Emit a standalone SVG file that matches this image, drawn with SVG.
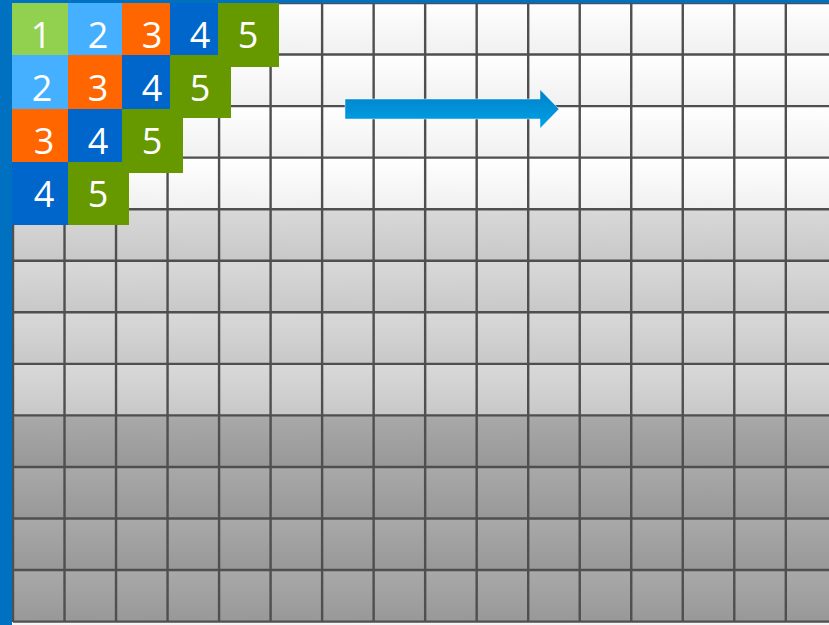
<svg xmlns="http://www.w3.org/2000/svg" width="829" height="625" viewBox="0 0 829 625">
  <style>
    .num { font-family: "Open Sans", "Noto Sans", "Liberation Sans", sans-serif; font-size: 36px; fill: #ffffff; text-anchor: middle; }
    .grid { stroke: #4f4f4f; stroke-width: 2.4; fill: none; }
    .c1 { fill: #92d050; }
    .c2 { fill: #45b0ff; }
    .c3 { fill: #ff6600; }
    .c4 { fill: #0066cc; }
    .c5 { fill: #669900; }
  </style>
  <defs>
    <linearGradient id="gW" x1="0" y1="0" x2="0" y2="1">
      <stop offset="0" stop-color="#ffffff"/>
      <stop offset="1" stop-color="#f0f0f0"/>
    </linearGradient>
    <linearGradient id="gL" x1="0" y1="0" x2="0" y2="1">
      <stop offset="0" stop-color="#d9d9d9"/>
      <stop offset="1" stop-color="#c8c8c8"/>
    </linearGradient>
    <linearGradient id="gD" x1="0" y1="0" x2="0" y2="1">
      <stop offset="0" stop-color="#a9a9a9"/>
      <stop offset="1" stop-color="#989898"/>
    </linearGradient>
    <linearGradient id="gA" x1="0" y1="0" x2="0" y2="1">
      <stop offset="0" stop-color="#0080c8"/>
      <stop offset="1" stop-color="#00a2e8"/>
    </linearGradient>
    <pattern id="pW" patternUnits="userSpaceOnUse" x="13" y="3" width="51.52" height="51.55">
      <rect x="0" y="0" width="51.52" height="51.55" fill="url(#gW)"/>
    </pattern>
    <pattern id="pL" patternUnits="userSpaceOnUse" x="13" y="3" width="51.52" height="51.55">
      <rect x="0" y="0" width="51.52" height="51.55" fill="url(#gL)"/>
    </pattern>
    <pattern id="pD" patternUnits="userSpaceOnUse" x="13" y="3" width="51.52" height="51.55">
      <rect x="0" y="0" width="51.52" height="51.55" fill="url(#gD)"/>
    </pattern>
  </defs>

  <rect x="0" y="0" width="829" height="625" fill="#f4f4f4"/>

  <g id="board">
    <rect x="13" y="3" width="816" height="206.2" fill="url(#pW)"/>
    <rect x="13" y="209.2" width="816" height="206.2" fill="url(#pL)"/>
    <rect x="13" y="415.4" width="816" height="206.2" fill="url(#pD)"/>
    <path class="grid" d="M13 3V622M64.52 3V622M116.04 3V622M167.56 3V622M219.08 3V622M270.6 3V622M322.12 3V622M373.64 3V622M425.16 3V622M476.68 3V622M528.2 3V622M579.72 3V622M631.24 3V622M682.76 3V622M734.28 3V622M785.8 3V622
      M13 3H829M13 54.55H829M13 106.1H829M13 157.65H829M13 209.2H829M13 260.75H829M13 312.3H829M13 363.85H829M13 415.4H829M13 466.95H829M13 518.5H829M13 570.05H829M13 621.6H829"/>
  </g>

  <rect x="0" y="0" width="12" height="625" fill="#0070c0"/>
  <rect x="0" y="0" width="829" height="3" fill="#0070c0"/>

  <g id="tiles">
    <g id="t-r0-1"><rect class="c1" x="12" y="3" width="56" height="52"/><text class="num" x="41" y="48">1</text></g>
    <g id="t-r0-2"><rect class="c2" x="68" y="3" width="54" height="52"/><text class="num" x="98" y="48">2</text></g>
    <g id="t-r0-3"><rect class="c3" x="122" y="3" width="48" height="52"/><text class="num" x="152" y="48">3</text></g>
    <g id="t-r0-4"><rect class="c4" x="170" y="3" width="48" height="52"/><text class="num" x="200" y="48">4</text></g>
    <g id="t-r0-5"><rect class="c5" x="218" y="3" width="61" height="64"/><text class="num" x="248" y="48">5</text></g>

    <g id="t-r1-2"><rect class="c2" x="12" y="55" width="56" height="54"/><text class="num" x="42" y="101">2</text></g>
    <g id="t-r1-3"><rect class="c3" x="68" y="55" width="54" height="54"/><text class="num" x="98" y="101">3</text></g>
    <g id="t-r1-4"><rect class="c4" x="122" y="55" width="48" height="54"/><text class="num" x="152" y="101">4</text></g>
    <g id="t-r1-5"><rect class="c5" x="170" y="55" width="61" height="63"/><text class="num" x="200" y="101">5</text></g>

    <g id="t-r2-3"><rect class="c3" x="12" y="109" width="56" height="53"/><text class="num" x="44" y="154">3</text></g>
    <g id="t-r2-4"><rect class="c4" x="68" y="109" width="54" height="53"/><text class="num" x="98" y="154">4</text></g>
    <g id="t-r2-5"><rect class="c5" x="122" y="109" width="61" height="64"/><text class="num" x="152" y="154">5</text></g>

    <g id="t-r3-4"><rect class="c4" x="12" y="162" width="56" height="63"/><text class="num" x="44" y="207">4</text></g>
    <g id="t-r3-5"><rect class="c5" x="68" y="162" width="61" height="63"/><text class="num" x="98" y="207">5</text></g>
  </g>

  <g id="connectors">
    <polygon points="345,99 540,99 540,89.5 559,109 540,128.5 540,119 345,119" fill="url(#gA)" stroke="#ffffff" stroke-opacity="0.6" stroke-width="0.8"/>
  </g>
</svg>
